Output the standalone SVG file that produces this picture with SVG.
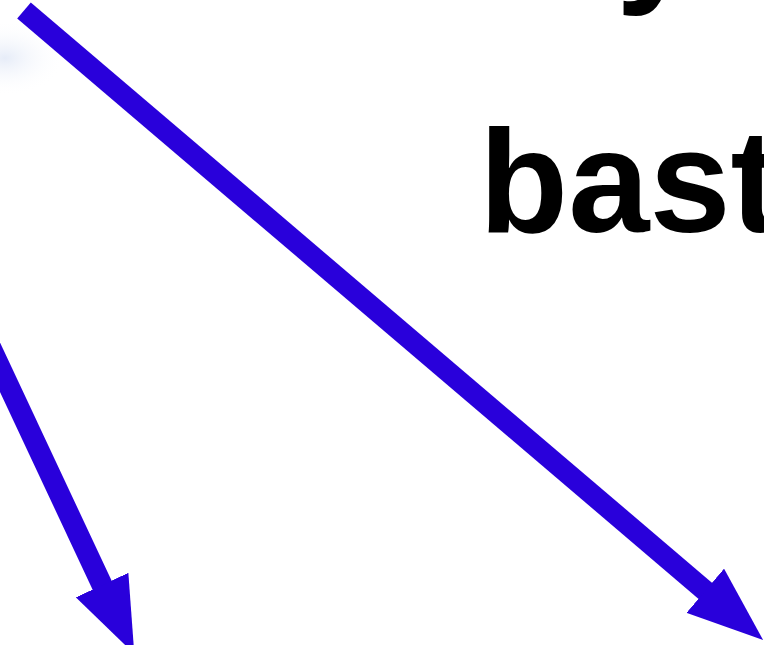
<svg xmlns="http://www.w3.org/2000/svg" width="764" height="645" viewBox="0 0 764 645">
  <style>
    .conn { stroke: #2900db; stroke-width: 21; fill: none; stroke-linecap: butt; }
    .lbl { font-family: "Liberation Sans", Arial, sans-serif; font-weight: bold; font-size: 146px; fill: #000000; }
  </style>
  <defs>
    <marker id="head" markerUnits="userSpaceOnUse" markerWidth="76" markerHeight="58" refX="1" refY="29" orient="auto" viewBox="0 0 76 58">
      <path d="M0,0 L76,29 L0,58 Z" fill="#2900db"/>
    </marker>
    <radialGradient id="haze" cx="0.5" cy="0.5" r="0.5">
      <stop offset="0" stop-color="#e6ecf8"/>
      <stop offset="1" stop-color="#ffffff" stop-opacity="0"/>
    </radialGradient>
  </defs>
  <rect width="764" height="645" fill="#ffffff"/>
  <ellipse cx="5" cy="58" rx="60" ry="38" fill="url(#haze)"/>
  <g id="label-top">
    <text class="lbl" x="616" y="-14">y</text>
  </g>
  <g id="label-main">
    <text class="lbl" x="479" y="232">bast</text>
  </g>
  <g id="connectors">
    <line class="conn" x1="24" y1="10.5" x2="706" y2="591.4" marker-end="url(#head)"/>
    <line class="conn" x1="-50" y1="260.5" x2="102.5" y2="586" marker-end="url(#head)"/>
  </g>
</svg>
